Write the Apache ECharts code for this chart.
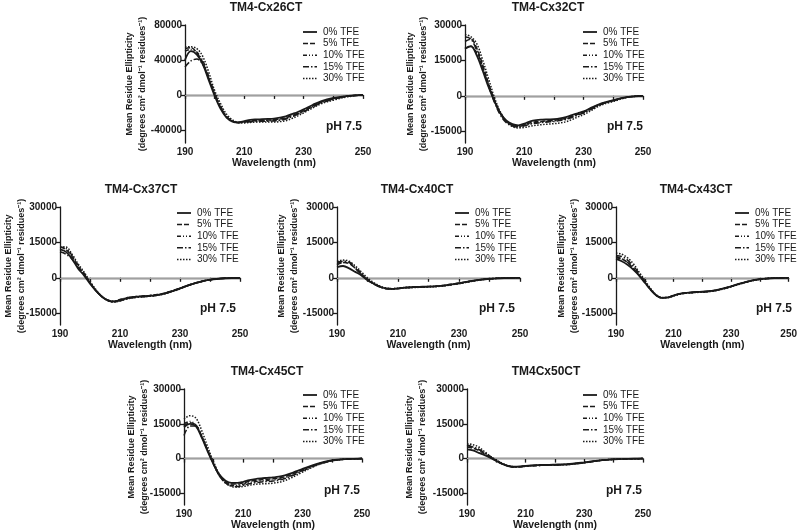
<!DOCTYPE html>
<html><head><meta charset="utf-8">
<script src="https://cdn.jsdelivr.net/npm/echarts@6/dist/echarts.min.js"></script>
<style>html,body{margin:0;padding:0;background:#fff}#c{width:800px;height:532px}</style>
</head><body><div id="c"></div>
<script>
// ---------- DATA ----------
const wavelengths = [190,192,194,196,198,200,202,204,206,208,210,212,214,216,218,220,222,224,226,228,230,233,236,240,245,250];
const seriesNames = ['0% TFE','5% TFE','10% TFE','15% TFE','30% TFE'];
const xTickLabels = [190,210,230,250];
const yTicksCx26 = [-40000,0,40000,80000];
const yTicksStd = [-15000,0,15000,30000];
const panelTitles = ['TM4-Cx26CT','TM4-Cx32CT','TM4-Cx37CT','TM4-Cx40CT','TM4-Cx43CT','TM4-Cx45CT','TM4Cx50CT'];
const phLabel = 'pH 7.5';

// each: [0%, 5%, 10%, 15%, 30% TFE] values at wavelengths
const cx26CT = [
 [40000,50000,46000,35000,17000,-1000,-16000,-26000,-30500,-31500,-30000,-28500,-28000,-27800,-27500,-27000,-26000,-24500,-22000,-19500,-16500,-11500,-7000,-3500,-1000,0],
 [53000,54000,48000,37000,19000,1000,-14000,-25000,-30000,-31500,-30800,-29800,-29300,-29000,-28800,-28400,-27500,-26000,-23500,-21000,-18000,-12800,-8000,-4200,-1200,0],
 [50000,52000,49000,39000,21000,2000,-13000,-24500,-30000,-31500,-31000,-30300,-29800,-29500,-29300,-29000,-28200,-26800,-24300,-21700,-18700,-13300,-8500,-4600,-1300,0],
 [32000,39000,41000,35000,19000,1000,-14000,-25000,-30000,-31800,-31500,-30800,-30400,-30200,-30000,-29700,-29000,-27600,-25000,-22300,-19200,-13800,-9000,-5000,-1500,0],
 [55000,55000,53000,44000,26000,5000,-10000,-22000,-28500,-31500,-32000,-31500,-31000,-31000,-31000,-31000,-30500,-29500,-27000,-24000,-20500,-15000,-10000,-6000,-2000,0]
];
const cx32CT = [
 [20000,21000,17000,10500,3500,-2500,-7500,-10500,-12000,-12500,-11800,-10800,-10300,-10100,-10000,-9900,-9600,-9000,-8200,-7400,-6600,-4800,-3200,-1800,-500,0],
 [23000,24000,20000,13000,5000,-2000,-7500,-11000,-12500,-13000,-12300,-11400,-11000,-10800,-10600,-10400,-10000,-9500,-8700,-7800,-6900,-5000,-3400,-1900,-500,0],
 [20000,21000,18000,12000,4000,-2500,-7800,-11000,-12500,-13000,-12500,-11800,-11300,-11000,-10800,-10600,-10200,-9700,-8900,-8000,-7100,-5200,-3500,-2000,-500,0],
 [25000,24000,19000,12000,4000,-3000,-8300,-11500,-12800,-13200,-12700,-12000,-11600,-11300,-11100,-10900,-10500,-10000,-9200,-8200,-7300,-5400,-3600,-2100,-500,0],
 [26000,25000,22000,15000,7000,-1000,-7000,-11000,-13000,-13600,-13400,-12900,-12500,-12200,-12000,-11800,-11500,-11000,-10100,-9000,-8000,-5900,-3900,-2400,-600,0]
];
const cx37CT = [
 [12000,11000,8000,4000,1000,-2500,-5500,-8000,-9500,-10000,-9500,-8800,-8300,-8000,-7800,-7600,-7300,-6900,-6200,-5400,-4500,-3100,-1900,-800,-200,0],
 [13000,12000,9000,5000,1500,-2000,-5500,-8000,-9500,-10000,-9300,-8600,-8200,-7900,-7700,-7500,-7200,-6800,-6100,-5300,-4400,-3000,-1900,-800,-200,0],
 [13000,12500,9500,5500,2000,-2000,-5500,-8000,-9500,-10000,-9200,-8500,-8100,-7900,-7700,-7500,-7200,-6800,-6100,-5300,-4400,-3000,-1900,-800,-200,0],
 [11000,10000,8000,4500,1500,-2000,-5500,-8000,-9800,-10300,-9700,-9000,-8500,-8200,-8000,-7800,-7500,-7000,-6300,-5500,-4600,-3200,-2000,-800,-200,0],
 [13000,13000,10000,6000,2500,-1500,-5000,-8000,-9700,-10300,-9800,-9000,-8500,-8200,-8000,-7800,-7500,-7100,-6400,-5600,-4700,-3200,-2000,-800,-200,0]
];
const cx40CT = [
 [4500,5000,4000,2500,1000,-1000,-2500,-3800,-4500,-4700,-4500,-4200,-4000,-3900,-3800,-3700,-3600,-3400,-3100,-2700,-2300,-1600,-1000,-400,-100,0],
 [5500,6500,6000,4000,1500,-800,-2500,-3800,-4500,-4700,-4500,-4200,-4000,-3900,-3800,-3700,-3600,-3400,-3100,-2700,-2300,-1600,-1000,-400,-100,0],
 [7000,6500,6500,4500,2000,-500,-2300,-3600,-4400,-4600,-4400,-4100,-3900,-3800,-3800,-3700,-3600,-3400,-3100,-2700,-2300,-1600,-1000,-400,-100,0],
 [6000,7000,6500,4000,1500,-800,-2500,-3800,-4600,-4800,-4600,-4300,-4100,-4000,-3900,-3800,-3700,-3500,-3200,-2800,-2400,-1700,-1000,-400,-100,0],
 [7000,7500,7000,5000,2500,0,-2000,-3500,-4300,-4600,-4500,-4300,-4200,-4100,-4000,-3900,-3800,-3600,-3300,-2900,-2500,-1800,-1100,-500,-100,0]
];
const cx43CT = [
 [8000,7000,5500,3500,1000,-2000,-5000,-7500,-8500,-8300,-7500,-6800,-6400,-6200,-6000,-5900,-5700,-5400,-4900,-4300,-3600,-2500,-1500,-600,-100,0],
 [9000,8000,6500,4000,1000,-2000,-5000,-7500,-8500,-8300,-7500,-6800,-6400,-6200,-6000,-5900,-5700,-5400,-4900,-4300,-3600,-2500,-1500,-600,-100,0],
 [8500,8000,6500,4500,1500,-1800,-5000,-7500,-8500,-8400,-7600,-6900,-6500,-6300,-6100,-6000,-5800,-5500,-5000,-4400,-3700,-2600,-1600,-600,-100,0],
 [9500,9000,7500,5000,2000,-1500,-4800,-7300,-8500,-8400,-7600,-6900,-6500,-6300,-6100,-6000,-5800,-5500,-5000,-4400,-3700,-2600,-1600,-600,-100,0],
 [10500,10000,8500,6000,2500,-1000,-4500,-7200,-8400,-8400,-7700,-7000,-6600,-6400,-6200,-6100,-5900,-5600,-5100,-4500,-3800,-2700,-1600,-600,-100,0]
];
const cx45CT = [
 [13500,15000,14000,9000,3000,-2500,-7000,-9500,-10500,-10500,-10000,-9300,-8800,-8500,-8300,-8100,-7800,-7200,-6400,-5400,-4400,-3000,-1800,-700,-200,0],
 [14000,15500,14500,9500,3500,-2500,-7500,-10000,-11000,-11000,-10500,-9800,-9400,-9100,-8900,-8700,-8400,-7800,-6900,-5900,-4800,-3300,-2000,-800,-200,0],
 [15000,16000,14500,9500,3500,-2500,-7500,-10500,-11500,-11500,-11000,-10300,-9900,-9600,-9400,-9200,-8900,-8300,-7400,-6300,-5100,-3500,-2100,-800,-200,0],
 [10000,14000,14000,9500,3500,-2500,-7500,-10500,-11800,-12000,-11500,-10800,-10400,-10100,-9900,-9700,-9300,-8600,-7600,-6500,-5300,-3600,-2200,-900,-200,0],
 [17000,18500,17500,12000,5000,-1500,-7000,-10500,-12000,-12300,-12000,-11500,-11100,-10900,-10800,-10600,-10200,-9500,-8400,-7100,-5800,-3900,-2300,-900,-200,0]
];
const cx50CT = [
 [4000,3500,2500,1500,300,-1000,-2300,-3200,-3500,-3400,-3100,-2900,-2800,-2700,-2700,-2600,-2500,-2400,-2200,-1900,-1600,-1100,-700,-300,-100,0],
 [5000,4500,3500,2000,500,-1000,-2300,-3200,-3600,-3500,-3200,-3000,-2900,-2800,-2800,-2700,-2600,-2500,-2300,-2000,-1700,-1200,-700,-300,-100,0],
 [6000,5000,4000,2500,800,-800,-2200,-3100,-3500,-3500,-3200,-3000,-2900,-2800,-2800,-2700,-2600,-2500,-2300,-2000,-1700,-1200,-700,-300,-100,0],
 [5500,5000,4000,2500,800,-800,-2200,-3200,-3600,-3600,-3300,-3100,-3000,-2900,-2900,-2800,-2700,-2600,-2400,-2100,-1800,-1200,-700,-300,-100,0],
 [6500,6000,5000,3000,1000,-600,-2000,-3000,-3500,-3500,-3300,-3100,-3000,-2900,-2900,-2800,-2700,-2600,-2400,-2100,-1800,-1200,-700,-300,-100,0]
];
const panelData = [cx26CT,cx32CT,cx37CT,cx40CT,cx43CT,cx45CT,cx50CT];
const yRanges = [[-55000,80000],[-20000,30000],[-20000,30000],[-20000,30000],[-20000,30000],[-20000,30000],[-20000,30000]];
const yTickSets = [yTicksCx26,yTicksStd,yTicksStd,yTicksStd,yTicksStd,yTicksStd,yTicksStd];

// ---------- LAYOUT / STYLE ----------
const layout = [
 {left:185,top:25,width:178,height:118,nameGap:36,titleX:266,legendX:303,legendY:32,phX:362},
 {left:465,top:25,width:178,height:118,nameGap:35,titleX:548,legendX:583,legendY:32,phX:643},
 {left:60,top:207,width:180,height:118,nameGap:32,titleX:141,legendX:177,legendY:213,phX:236},
 {left:337,top:207,width:183,height:118,nameGap:36,titleX:417,legendX:455,legendY:213,phX:515},
 {left:616,top:207,width:181,height:118,nameGap:35,titleX:696,legendX:735,legendY:213,phX:792},
 {left:184,top:389,width:178,height:118,nameGap:33,titleX:267,legendX:303,legendY:395,phX:360},
 {left:467,top:389,width:176,height:118,nameGap:38,titleX:546,legendX:583,legendY:395,phX:642}
];
const FONT = 'Liberation Sans, Arial, Helvetica, sans-serif';
const INK = '#1a1a1a';
const lineTypes = ['solid',[5,2],[4,2,1,2,1,2],[6,2,1.5,2],[1.5,1.5]];
const legendRowGap = 11.6;
const yName = 'Mean Residue Ellipticity\n(degrees cm² dmol⁻¹ residues⁻¹)';

const grid=[],xAxis=[],yAxis=[],series=[],graphic=[];
layout.forEach((L,i)=>{
  grid.push({left:L.left,top:L.top,width:L.width,height:L.height,containLabel:false});
  xAxis.push({
    gridIndex:i,type:'value',min:190,max:250,interval:10,
    axisLine:{lineStyle:{color:INK,width:1.3}},
    axisTick:{length:4,lineStyle:{color:INK,width:1.3}},
    axisLabel:{formatter:v=>xTickLabels.includes(v)?String(v):'',color:INK,fontWeight:'bold',fontSize:10,margin:4,fontFamily:FONT},
    splitLine:{show:false},
    name:'Wavelength (nm)',nameLocation:'middle',nameGap:15,nameMoveOverlap:false,
    nameTextStyle:{color:INK,fontWeight:'bold',fontSize:10.5,fontFamily:FONT}
  });
  yAxis.push({
    gridIndex:i,type:'value',min:yRanges[i][0],max:yRanges[i][1],
    axisLine:{show:true,lineStyle:{color:INK,width:1.3}},
    axisTick:{show:true,length:4,customValues:yTickSets[i],lineStyle:{color:INK,width:1.3}},
    axisLabel:{customValues:yTickSets[i],formatter:v=>String(v),color:INK,fontWeight:'bold',fontSize:10,margin:3,fontFamily:FONT},
    splitLine:{show:false},
    name:yName,nameLocation:'middle',nameRotate:90,nameGap:L.nameGap,nameMoveOverlap:false,
    nameTextStyle:{color:INK,fontWeight:'bold',fontSize:9,lineHeight:13,fontFamily:FONT,align:'center'}
  });
  const pd = panelData[i];
  seriesNames.forEach((nm,j)=>{
    const s = {
      type:'line',name:nm,xAxisIndex:i,yAxisIndex:i,
      data:wavelengths.map((w,k)=>[w,pd[j][k]]),
      smooth:0.35,symbol:'none',animation:false,z:3,
      lineStyle:{color:INK,width:j===0?1.8:1.5,type:lineTypes[j]},
      itemStyle:{color:INK}
    };
    if(j===0){
      s.markLine={silent:true,symbol:'none',animation:false,label:{show:false},
        lineStyle:{color:'#a0a0a0',width:1,type:'solid'},data:[{yAxis:0}],z:1};
    }
    series.push(s);
    // legend sample + label
    const ry = L.legendY + j*legendRowGap;
    graphic.push({type:'line',silent:true,shape:{x1:L.legendX,y1:ry,x2:L.legendX+14,y2:ry},
      style:{stroke:INK,lineWidth:j===0?1.8:1.5,lineDash:j===0?null:lineTypes[j]}});
    graphic.push({type:'text',silent:true,x:L.legendX+20,y:ry,
      style:{text:nm,font:'10px '+FONT,fill:INK,align:'left',textAlign:'left',verticalAlign:'middle',textVerticalAlign:'middle'}});
  });
  graphic.push({type:'text',silent:true,x:L.titleX,y:L.top-17,style:{text:panelTitles[i],font:'bold 12px '+FONT,fill:INK,align:'center',textAlign:'center',verticalAlign:'middle',textVerticalAlign:'middle'}});
  graphic.push({type:'text',silent:true,x:L.phX,y:L.top+102,style:{text:phLabel,font:'bold 12px '+FONT,fill:INK,align:'right',textAlign:'right',verticalAlign:'middle',textVerticalAlign:'middle'}});
});

const chart = echarts.init(document.getElementById('c'),null,{renderer:'canvas'});
chart.setOption({backgroundColor:'#fff',animation:false,grid,xAxis,yAxis,series,graphic});
</script></body></html>
